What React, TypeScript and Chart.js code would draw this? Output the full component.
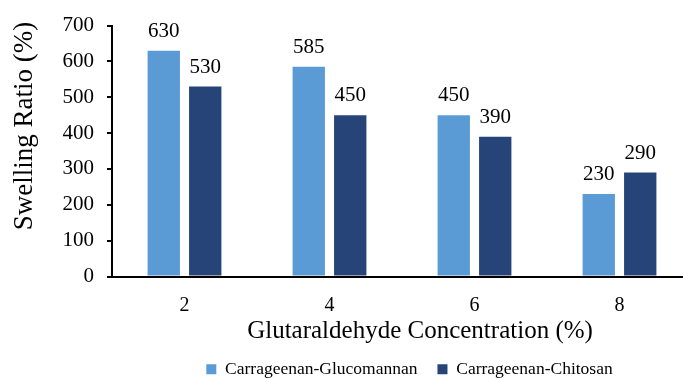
import { useEffect, useRef } from "react";
import { Chart, registerables } from "chart.js";

Chart.register(...registerables);

// Glutaraldehyde concentration (%) on the category axis
const concentrations = ["2", "4", "6", "8"];
// Swelling ratio (%) for each hydrogel blend
const glucomannanSwelling = [630, 585, 450, 230];
const chitosanSwelling = [530, 450, 390, 290];

const seriesNames = ["Carrageenan-Glucomannan", "Carrageenan-Chitosan"];
const xAxisTitle = "Glutaraldehyde Concentration (%)";
const yAxisTitle = "Swelling Ratio (%)";

const yMin = 0;
const yMax = 700;
const yStep = 100;

const SERIF = '"Liberation Serif", "Times New Roman", serif';

export default function App() {
  const canvasRef = useRef<HTMLCanvasElement>(null);

  useEffect(() => {
    const canvas = canvasRef.current;
    if (!canvas) return;

    // Value printed above every bar
    const valueLabels = {
      id: "valueLabels",
      afterDatasetsDraw(chart: any) {
        const ctx = chart.ctx;
        ctx.save();
        ctx.font = `21px ${SERIF}`;
        ctx.fillStyle = "#000";
        ctx.textAlign = "center";
        ctx.textBaseline = "alphabetic";
        chart.data.datasets.forEach((ds: any, i: number) => {
          const meta = chart.getDatasetMeta(i);
          meta.data.forEach((bar: any, j: number) => {
            ctx.fillText(String(ds.data[j]), bar.x, bar.y - 14);
          });
        });
        ctx.restore();
      },
    };

    // Axis captions, placed relative to the plot area
    const axisCaptions = {
      id: "axisCaptions",
      afterDraw(chart: any) {
        const ctx = chart.ctx;
        const { left, right, top, bottom } = chart.chartArea;
        ctx.save();
        ctx.fillStyle = "#000";
        ctx.textAlign = "center";
        ctx.textBaseline = "alphabetic";
        ctx.font = `25px ${SERIF}`;
        ctx.fillText(xAxisTitle, (left + right) / 2 + 18, bottom + 61);
        ctx.translate(32, (top + bottom) / 2 - 25);
        ctx.rotate(-Math.PI / 2);
        ctx.font = `27px ${SERIF}`;
        ctx.fillText(yAxisTitle, 0, 0);
        ctx.restore();
      },
    };

    const chart = new Chart(canvas, {
      type: "bar",
      data: {
        labels: concentrations,
        datasets: [
          {
            label: seriesNames[0],
            data: glucomannanSwelling,
            backgroundColor: "#5B9BD5",
            borderWidth: 0,
            categoryPercentage: 0.572,
            barPercentage: 0.78,
          },
          {
            label: seriesNames[1],
            data: chitosanSwelling,
            backgroundColor: "#264478",
            borderWidth: 0,
            categoryPercentage: 0.572,
            barPercentage: 0.78,
          },
        ],
      },
      options: {
        responsive: false,
        animation: false,
        devicePixelRatio: 1,
        layout: { padding: { top: 23, left: 0, right: 0, bottom: 0 } },
        plugins: {
          legend: {
            position: "bottom",
            labels: {
              boxWidth: 10,
              boxHeight: 10,
              padding: 20,
              color: "#000",
              font: { family: SERIF, size: 17.5 },
            },
          },
          tooltip: { enabled: false },
        },
        scales: {
          x: {
            offset: true,
            grid: { display: false, drawTicks: false },
            border: { color: "#000", width: 2 },
            ticks: {
              color: "#000",
              padding: 17,
              font: { family: SERIF, size: 20 },
            },
            afterFit: (s: any) => {
              s.height = 64;
            },
          },
          y: {
            min: yMin,
            max: yMax,
            ticks: {
              stepSize: yStep,
              color: "#000",
              padding: 13,
              font: { family: SERIF, size: 21 },
            },
            grid: {
              drawOnChartArea: false,
              tickLength: 5,
              color: "#000",
              lineWidth: 2,
            },
            border: { color: "#000", width: 2 },
            afterFit: (s: any) => {
              s.width = 112;
            },
          },
          // empty right-hand gutter, keeps the legend centred under the figure
          gutter: {
            type: "linear",
            position: "right",
            display: true,
            grid: { display: false, drawTicks: false },
            border: { display: false },
            ticks: { display: false },
            afterFit: (s: any) => {
              s.width = 127;
            },
          },
        },
      } as any,
      plugins: [valueLabels, axisCaptions],
    });

    return () => chart.destroy();
  }, []);

  return (
    <div
      style={{
        position: "fixed",
        left: 0,
        top: 0,
        width: 683,
        height: 379,
        overflow: "hidden",
        background: "#fff",
      }}
    >
      <canvas ref={canvasRef} width={819} height={388} style={{ display: "block" }} />
    </div>
  );
}
